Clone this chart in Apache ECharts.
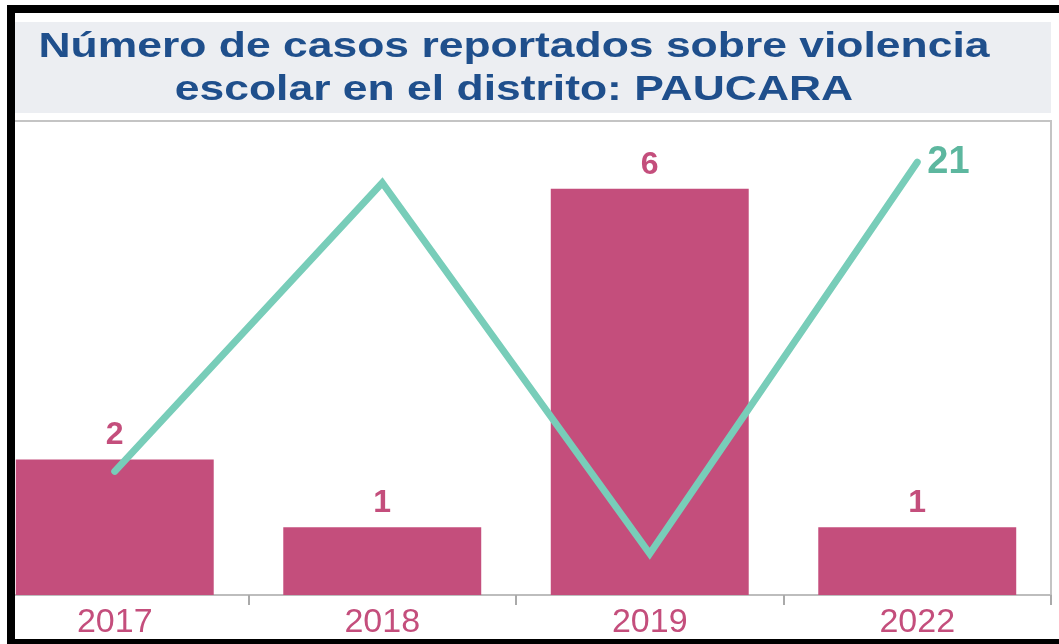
<!DOCTYPE html>
<html>
<head>
<meta charset="utf-8">
<script src="https://cdn.jsdelivr.net/npm/echarts@6/dist/echarts.min.js"></script>
<style>
    html, body { margin: 0; padding: 0; background: #fff; }
    #wrap { width: 1059px; height: 644px; overflow: hidden; position: relative; background: #fff; }
    /* el gráfico original está recortado por la izquierda */
    #chart { width: 1078px; height: 644px; position: absolute; left: -19px; top: 0; }
    #marco {
        position: absolute; left: 0; top: 0; width: 1059px; height: 644px;
        pointer-events: none; box-sizing: border-box;
        border-left: 7px solid #fff;
        border-top: 5px solid #fff;
    }
    #marco div {
        width: 100%; height: 100%; box-sizing: border-box;
        border-left: 8px solid #000; border-top: 8px solid #000; border-bottom: 5px solid #000;
    }
</style>
</head>
<body>
<div id="wrap"><div id="chart"></div><div id="marco"><div></div></div></div>
<script>
    var years = ['2017', '2018', '2019', '2022'];
    var casos = [2, 1, 6, 1];
    var linea = [6, 20, 2, 21];
    var titulo = 'Número de casos reportados sobre violencia\nescolar en el distrito: PAUCARA';

    var rosa = '#c44e7c';
    var verde = '#78cdb9';
    var dx = 19; // desplazamiento del div

    var chart = echarts.init(document.getElementById('chart'));
    var option = {
        animation: false,
        backgroundColor: '#fff',
        textStyle: { fontFamily: 'Liberation Sans, Arial, sans-serif' },
        grid: {
            left: 0, right: 8, top: 121, bottom: 49,
            show: true, borderColor: '#c4c4c4', borderWidth: 2, containLabel: false
        },
        xAxis: {
            type: 'category',
            data: years,
            boundaryGap: true,
            axisLine: { lineStyle: { color: '#bdbdbd', width: 2 } },
            axisTick: { show: true, length: 10, lineStyle: { color: '#aaa', width: 2 } },
            axisLabel: { color: rosa, fontSize: 34, margin: 11 }
        },
        yAxis: [
            { type: 'value', min: 0, max: 7, show: false, splitLine: { show: false } },
            { type: 'value', min: 0, max: 23, show: false, splitLine: { show: false } }
        ],
        series: [
            {
                type: 'bar',
                data: casos,
                barWidth: '74%',
                itemStyle: { color: rosa },
                label: {
                    show: true, position: 'top', distance: 8,
                    color: rosa, fontSize: 32, fontWeight: 'bold'
                }
            },
            {
                type: 'line',
                yAxisIndex: 1,
                data: linea,
                showSymbol: false,
                symbol: 'none',
                lineStyle: { color: verde, width: 7, cap: 'round', join: 'miter' },
                endLabel: {
                    show: true, distance: 10, color: '#5db79f',
                    fontSize: 38, fontWeight: 'bold'
                },
                z: 3
            }
        ],
        graphic: [
            { type: 'rect', z: -1, shape: { x: 15 + dx, y: 22, width: 1036, height: 91 }, style: { fill: '#eceef2' } },
            {
                type: 'text', z: 10, x: 514 + dx, y: 69, scaleX: 1.27, scaleY: 1,
                style: {
                    text: titulo, fill: '#1f4f8c', font: 'bold 35px "Liberation Sans", Arial, sans-serif',
                    align: 'center', verticalAlign: 'middle', lineHeight: 43
                }
            }
        ]
    };
    chart.setOption(option);
</script>
</body>
</html>
